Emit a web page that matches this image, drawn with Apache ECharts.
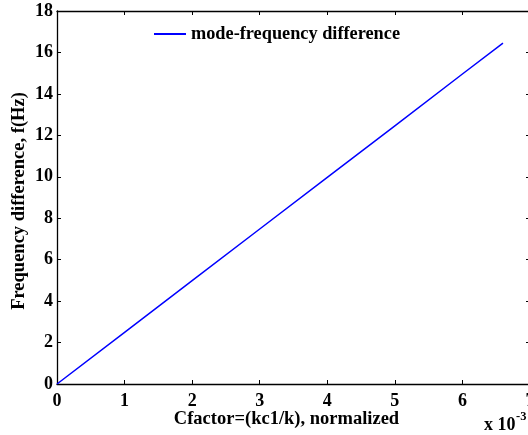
<!DOCTYPE html>
<html>
<head>
<meta charset="utf-8">
<script src="https://cdn.jsdelivr.net/npm/echarts@6/dist/echarts.min.js"></script>
<style>
  html, body { margin: 0; padding: 0; background: #fff; }
  #chart { width: 528px; height: 435px; }
</style>
</head>
<body>
<div id="chart"></div>
<script>
// Cfactor (x 10^-3) against the mode-frequency difference in Hz
const cfactor = [0, 1, 2, 3, 4, 5, 6, 6.6];
const freqDiff = [0, 2.49, 4.99, 7.48, 9.97, 12.46, 14.96, 16.45];
const xTicks = [0, 1, 2, 3, 4, 5, 6, 7];
const yTicks = [0, 2, 4, 6, 8, 10, 12, 14, 16, 18];
const xTitle = 'Cfactor=(kc1/k), normalized';
const yTitle = 'Frequency difference, f(Hz)';
const seriesName = 'mode-frequency difference';

const FONT = '"Liberation Serif", "Times New Roman", serif';
const points = cfactor.map((c, i) => [c, freqDiff[i]]);

const chart = echarts.init(document.getElementById('chart'), null, { renderer: 'canvas' });

function axisLine() { return { show: true, onZero: false, lineStyle: { color: '#000', width: 1.3 } }; }
function inwardTick() { return { show: true, inside: true, length: 4, lineStyle: { color: '#000', width: 1 } }; }

chart.setOption({
  animation: false,
  backgroundColor: '#fff',
  grid: { left: 57, top: 11, width: 473, height: 373, containLabel: false, outerBoundsMode: 'none' },
  legend: {
    show: true,
    left: 149,
    top: 20,
    itemWidth: 32,
    itemHeight: 2,
    itemGap: 3,
    icon: 'rect',
    textStyle: { fontFamily: FONT, fontWeight: 'bold', fontSize: 18.3, color: '#000' },
    data: [{ name: seriesName, icon: 'rect' }]
  },
  xAxis: [
    {
      type: 'value',
      min: xTicks[0],
      max: xTicks[xTicks.length - 1],
      interval: 1,
      position: 'bottom',
      axisLine: axisLine(),
      axisTick: inwardTick(),
      splitLine: { show: false },
      axisLabel: {
        margin: 8,
        fontFamily: FONT, fontWeight: 'bold', fontSize: 18, color: '#000',
        showMinLabel: true, showMaxLabel: true
      }
    },
    {
      type: 'value',
      min: xTicks[0],
      max: xTicks[xTicks.length - 1],
      interval: 1,
      position: 'top',
      axisLine: axisLine(),
      axisTick: inwardTick(),
      splitLine: { show: false },
      axisLabel: { show: false }
    }
  ],
  yAxis: [
    {
      type: 'value',
      min: yTicks[0],
      max: yTicks[yTicks.length - 1],
      interval: 2,
      position: 'left',
      axisLine: axisLine(),
      axisTick: inwardTick(),
      splitLine: { show: false },
      axisLabel: {
        margin: 4,
        fontFamily: FONT, fontWeight: 'bold', fontSize: 18, color: '#000',
        showMinLabel: true, showMaxLabel: true
      }
    },
    {
      type: 'value',
      min: yTicks[0],
      max: yTicks[yTicks.length - 1],
      interval: 2,
      position: 'right',
      axisLine: axisLine(),
      axisTick: inwardTick(),
      splitLine: { show: false },
      axisLabel: { show: false }
    }
  ],
  series: [
    {
      name: seriesName,
      type: 'line',
      xAxisIndex: 0,
      yAxisIndex: 0,
      data: points,
      showSymbol: false,
      symbol: 'none',
      lineStyle: { color: '#0000ff', width: 1.5 },
      itemStyle: { color: '#0000ff' }
    }
  ],
  graphic: [
    {
      type: 'text',
      x: 286.5,
      y: 419,
      style: {
        text: xTitle,
        fontFamily: FONT, fontWeight: 'bold', fontSize: 18.5, fill: '#000',
        align: 'center', verticalAlign: 'middle'
      }
    },
    {
      type: 'text',
      x: 19,
      y: 201,
      rotation: Math.PI / 2,
      style: {
        text: yTitle,
        fontFamily: FONT, fontWeight: 'bold', fontSize: 18.5, fill: '#000',
        align: 'center', verticalAlign: 'middle'
      }
    },
    {
      type: 'text',
      x: 484,
      y: 434,
      style: {
        text: 'x 10',
        fontFamily: FONT, fontWeight: 'bold', fontSize: 18, fill: '#000',
        align: 'left', verticalAlign: 'bottom'
      }
    },
    {
      type: 'text',
      x: 516,
      y: 410,
      style: {
        text: '-3',
        fontFamily: FONT, fontWeight: 'bold', fontSize: 12.5, fill: '#000',
        align: 'left', verticalAlign: 'top'
      }
    }
  ]
});
</script>
</body>
</html>
